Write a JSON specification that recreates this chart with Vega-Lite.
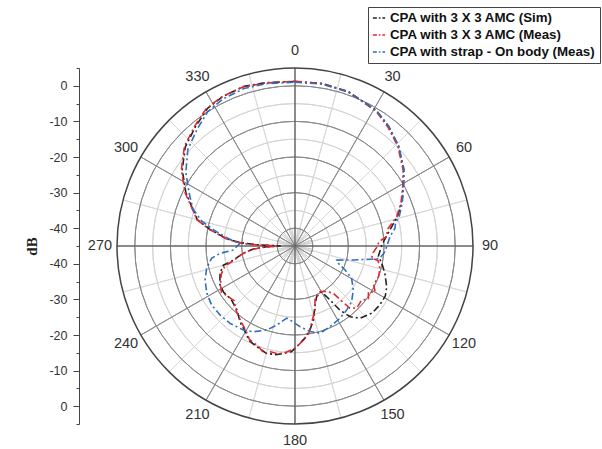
{
"$schema": "https://vega.github.io/schema/vega-lite/v6.json",
"width": 356, "height": 356,
"autosize": {"type": "none"},
"padding": {"left": 117, "top": 68, "right": 129, "bottom": 25},
"config": {"view": {"stroke": null}, "font": "Liberation Sans", "background": "white"},
"layer": [
{
 "data": {"values": [{"ring": -35}, {"ring": -25}, {"ring": -15}, {"ring": -5}]},
 "mark": {"type": "arc", "theta": 0, "theta2": 6.2832, "fillOpacity": 0, "stroke": "#d4d4d4", "strokeWidth": 1},
 "encoding": {
  "radius": {"field": "ring", "type": "quantitative", "scale": {"type": "linear", "domain": [-45, 5], "range": [0, 178], "zero": false, "nice": false}},
  "radius2": {"field": "ring"}
 }
},
{
 "data": {"values": [{"angle": 15}, {"angle": 45}, {"angle": 75}, {"angle": 105}, {"angle": 135}, {"angle": 165}, {"angle": 195}, {"angle": 225}, {"angle": 255}, {"angle": 285}, {"angle": 315}, {"angle": 345}]},
 "mark": {"type": "arc", "fillOpacity": 0, "stroke": "#d9d9d9", "strokeWidth": 1},
 "encoding": {
  "theta": {"field": "angle", "type": "quantitative", "stack": null, "scale": {"type": "linear", "domain": [0, 360], "range": [0, 6.2832], "zero": false, "nice": false}},
  "theta2": {"field": "angle"},
  "radius": {"datum": 5, "type": "quantitative", "scale": {"type": "linear", "domain": [-45, 5], "range": [0, 178], "zero": false, "nice": false}},
  "radius2": {"datum": -45}
 }
},
{
 "data": {"values": [{"angle": 10}, {"angle": 20}, {"angle": 40}, {"angle": 50}, {"angle": 70}, {"angle": 80}, {"angle": 100}, {"angle": 110}, {"angle": 130}, {"angle": 140}, {"angle": 160}, {"angle": 170}, {"angle": 190}, {"angle": 200}, {"angle": 220}, {"angle": 230}, {"angle": 250}, {"angle": 260}, {"angle": 280}, {"angle": 290}, {"angle": 310}, {"angle": 320}, {"angle": 340}, {"angle": 350}]},
 "mark": {"type": "arc", "fillOpacity": 0, "stroke": "#cccccc", "strokeWidth": 0.7},
 "encoding": {
  "theta": {"field": "angle", "type": "quantitative", "stack": null, "scale": {"type": "linear", "domain": [0, 360], "range": [0, 6.2832], "zero": false, "nice": false}},
  "theta2": {"field": "angle"},
  "radius": {"datum": -40, "type": "quantitative", "scale": {"type": "linear", "domain": [-45, 5], "range": [0, 178], "zero": false, "nice": false}},
  "radius2": {"datum": -45}
 }
},
{
 "data": {"values": [{"ring": -40}, {"ring": -30}, {"ring": -20}, {"ring": -10}, {"ring": 0}]},
 "mark": {"type": "arc", "theta": 0, "theta2": 6.2832, "fillOpacity": 0, "stroke": "#8a8a8a", "strokeWidth": 1},
 "encoding": {
  "radius": {"field": "ring", "type": "quantitative", "scale": {"type": "linear", "domain": [-45, 5], "range": [0, 178], "zero": false, "nice": false}},
  "radius2": {"field": "ring"}
 }
},
{
 "data": {"values": [{"angle": 30}, {"angle": 60}, {"angle": 120}, {"angle": 150}, {"angle": 210}, {"angle": 240}, {"angle": 300}, {"angle": 330}]},
 "mark": {"type": "arc", "fillOpacity": 0, "stroke": "#8a8a8a", "strokeWidth": 1},
 "encoding": {
  "theta": {"field": "angle", "type": "quantitative", "stack": null, "scale": {"type": "linear", "domain": [0, 360], "range": [0, 6.2832], "zero": false, "nice": false}},
  "theta2": {"field": "angle"},
  "radius": {"datum": 5, "type": "quantitative", "scale": {"type": "linear", "domain": [-45, 5], "range": [0, 178], "zero": false, "nice": false}},
  "radius2": {"datum": -45}
 }
},
{
 "data": {"values": [{"angle": 0}, {"angle": 90}, {"angle": 180}, {"angle": 270}]},
 "mark": {"type": "arc", "fillOpacity": 0, "stroke": "#666666", "strokeWidth": 1},
 "encoding": {
  "theta": {"field": "angle", "type": "quantitative", "stack": null, "scale": {"type": "linear", "domain": [0, 360], "range": [0, 6.2832], "zero": false, "nice": false}},
  "theta2": {"field": "angle"},
  "radius": {"datum": 5, "type": "quantitative", "scale": {"type": "linear", "domain": [-45, 5], "range": [0, 178], "zero": false, "nice": false}},
  "radius2": {"datum": -45}
 }
},
{
 "data": {"values": [{"ring": 5}]},
 "mark": {"type": "arc", "theta": 0, "theta2": 6.2832, "fillOpacity": 0, "stroke": "#444444", "strokeWidth": 1.5},
 "encoding": {
  "radius": {"field": "ring", "type": "quantitative", "scale": {"type": "linear", "domain": [-45, 5], "range": [0, 178], "zero": false, "nice": false}},
  "radius2": {"field": "ring"}
 }
},
{
 "data": {"values": [{"angle": 0}, {"angle": 30}, {"angle": 60}, {"angle": 90}, {"angle": 120}, {"angle": 150}, {"angle": 180}, {"angle": 210}, {"angle": 240}, {"angle": 270}, {"angle": 300}, {"angle": 330}]},
 "mark": {"type": "text", "fontSize": 14.5, "color": "#333333", "align": "center", "baseline": "middle", "font": "Liberation Sans"},
 "encoding": {
  "theta": {"field": "angle", "type": "quantitative", "stack": null, "scale": {"type": "linear", "domain": [0, 360], "range": [0, 6.2832], "zero": false, "nice": false}},
  "radius": {"datum": 9.8, "type": "quantitative", "scale": {"type": "linear", "domain": [-45, 5], "range": [0, 178], "zero": false, "nice": false}},
  "text": {"field": "angle", "type": "quantitative"}
 }
},
{
 "data": {"values": [
{"series":"CPA with 3 X 3 AMC (Sim)","angle":0,"dB":1.2},{"series":"CPA with 3 X 3 AMC (Sim)","angle":9.5,"dB":1.3},{"series":"CPA with 3 X 3 AMC (Sim)","angle":19,"dB":0.9},{"series":"CPA with 3 X 3 AMC (Sim)","angle":31,"dB":-0.6},{"series":"CPA with 3 X 3 AMC (Sim)","angle":38,"dB":-2.3},{"series":"CPA with 3 X 3 AMC (Sim)","angle":46,"dB":-4.6},{"series":"CPA with 3 X 3 AMC (Sim)","angle":55,"dB":-7.7},{"series":"CPA with 3 X 3 AMC (Sim)","angle":61,"dB":-10.2},{"series":"CPA with 3 X 3 AMC (Sim)","angle":68,"dB":-12.6},{"series":"CPA with 3 X 3 AMC (Sim)","angle":74,"dB":-15.1},{"series":"CPA with 3 X 3 AMC (Sim)","angle":80,"dB":-17.8},{"series":"CPA with 3 X 3 AMC (Sim)","angle":86,"dB":-19.8},{"series":"CPA with 3 X 3 AMC (Sim)","angle":90,"dB":-20.7},{"series":"CPA with 3 X 3 AMC (Sim)","angle":97,"dB":-21.4},{"series":"CPA with 3 X 3 AMC (Sim)","angle":101,"dB":-20.2},{"series":"CPA with 3 X 3 AMC (Sim)","angle":107,"dB":-18.6},{"series":"CPA with 3 X 3 AMC (Sim)","angle":114,"dB":-16.8},{"series":"CPA with 3 X 3 AMC (Sim)","angle":119,"dB":-16.0},{"series":"CPA with 3 X 3 AMC (Sim)","angle":125,"dB":-16.0},{"series":"CPA with 3 X 3 AMC (Sim)","angle":131,"dB":-16.3},{"series":"CPA with 3 X 3 AMC (Sim)","angle":138,"dB":-17.7},{"series":"CPA with 3 X 3 AMC (Sim)","angle":142,"dB":-19.8},{"series":"CPA with 3 X 3 AMC (Sim)","angle":145,"dB":-23.0},{"series":"CPA with 3 X 3 AMC (Sim)","angle":147,"dB":-26.9},{"series":"CPA with 3 X 3 AMC (Sim)","angle":150,"dB":-30.1},{"series":"CPA with 3 X 3 AMC (Sim)","angle":157,"dB":-29.5},{"series":"CPA with 3 X 3 AMC (Sim)","angle":162,"dB":-27.0},{"series":"CPA with 3 X 3 AMC (Sim)","angle":166,"dB":-23.6},{"series":"CPA with 3 X 3 AMC (Sim)","angle":170,"dB":-21.0},{"series":"CPA with 3 X 3 AMC (Sim)","angle":174,"dB":-18.9},{"series":"CPA with 3 X 3 AMC (Sim)","angle":179,"dB":-16.7},{"series":"CPA with 3 X 3 AMC (Sim)","angle":182,"dB":-15.3},{"series":"CPA with 3 X 3 AMC (Sim)","angle":186,"dB":-14.7},{"series":"CPA with 3 X 3 AMC (Sim)","angle":190,"dB":-14.0},{"series":"CPA with 3 X 3 AMC (Sim)","angle":195,"dB":-13.8},{"series":"CPA with 3 X 3 AMC (Sim)","angle":201,"dB":-14.8},{"series":"CPA with 3 X 3 AMC (Sim)","angle":206,"dB":-15.5},{"series":"CPA with 3 X 3 AMC (Sim)","angle":210,"dB":-17.1},{"series":"CPA with 3 X 3 AMC (Sim)","angle":216,"dB":-18.7},{"series":"CPA with 3 X 3 AMC (Sim)","angle":222,"dB":-20.7},{"series":"CPA with 3 X 3 AMC (Sim)","angle":230,"dB":-21.6},{"series":"CPA with 3 X 3 AMC (Sim)","angle":237,"dB":-21.1},{"series":"CPA with 3 X 3 AMC (Sim)","angle":243,"dB":-21.3},{"series":"CPA with 3 X 3 AMC (Sim)","angle":250,"dB":-22.6},{"series":"CPA with 3 X 3 AMC (Sim)","angle":255,"dB":-24.2},{"series":"CPA with 3 X 3 AMC (Sim)","angle":257,"dB":-27.2},{"series":"CPA with 3 X 3 AMC (Sim)","angle":262,"dB":-30.3},{"series":"CPA with 3 X 3 AMC (Sim)","angle":266,"dB":-33.3},{"series":"CPA with 3 X 3 AMC (Sim)","angle":268.5,"dB":-37},{"series":"CPA with 3 X 3 AMC (Sim)","angle":270,"dB":-41},{"series":"CPA with 3 X 3 AMC (Sim)","angle":272,"dB":-34},{"series":"CPA with 3 X 3 AMC (Sim)","angle":273.5,"dB":-29.5},{"series":"CPA with 3 X 3 AMC (Sim)","angle":276,"dB":-25.7},{"series":"CPA with 3 X 3 AMC (Sim)","angle":281,"dB":-20.7},{"series":"CPA with 3 X 3 AMC (Sim)","angle":285,"dB":-16.6},{"series":"CPA with 3 X 3 AMC (Sim)","angle":296,"dB":-10.9},{"series":"CPA with 3 X 3 AMC (Sim)","angle":304,"dB":-6.8},{"series":"CPA with 3 X 3 AMC (Sim)","angle":312,"dB":-3.5},{"series":"CPA with 3 X 3 AMC (Sim)","angle":320,"dB":-1.4},{"series":"CPA with 3 X 3 AMC (Sim)","angle":327.5,"dB":0.8},{"series":"CPA with 3 X 3 AMC (Sim)","angle":334,"dB":1.6},{"series":"CPA with 3 X 3 AMC (Sim)","angle":342,"dB":2.1},{"series":"CPA with 3 X 3 AMC (Sim)","angle":350,"dB":1.6},{"series":"CPA with 3 X 3 AMC (Sim)","angle":360,"dB":1.2},
{"series":"CPA with 3 X 3 AMC (Meas)","angle":0,"dB":1.3},{"series":"CPA with 3 X 3 AMC (Meas)","angle":9.5,"dB":1.2},{"series":"CPA with 3 X 3 AMC (Meas)","angle":19,"dB":0.8},{"series":"CPA with 3 X 3 AMC (Meas)","angle":31,"dB":-0.8},{"series":"CPA with 3 X 3 AMC (Meas)","angle":38,"dB":-2.6},{"series":"CPA with 3 X 3 AMC (Meas)","angle":46,"dB":-4.8},{"series":"CPA with 3 X 3 AMC (Meas)","angle":55,"dB":-7.9},{"series":"CPA with 3 X 3 AMC (Meas)","angle":61,"dB":-10.4},{"series":"CPA with 3 X 3 AMC (Meas)","angle":68,"dB":-12.9},{"series":"CPA with 3 X 3 AMC (Meas)","angle":74,"dB":-15.3},{"series":"CPA with 3 X 3 AMC (Meas)","angle":80,"dB":-18.7},{"series":"CPA with 3 X 3 AMC (Meas)","angle":84,"dB":-19},{"series":"CPA with 3 X 3 AMC (Meas)","angle":87,"dB":-21.4},{"series":"CPA with 3 X 3 AMC (Meas)","angle":90,"dB":-21.8},{"series":"CPA with 3 X 3 AMC (Meas)","angle":95,"dB":-23},{"series":"CPA with 3 X 3 AMC (Meas)","angle":99,"dB":-23.2},{"series":"CPA with 3 X 3 AMC (Meas)","angle":100,"dB":-21.3},{"series":"CPA with 3 X 3 AMC (Meas)","angle":105,"dB":-20.3},{"series":"CPA with 3 X 3 AMC (Meas)","angle":110,"dB":-20.0},{"series":"CPA with 3 X 3 AMC (Meas)","angle":116,"dB":-20.4},{"series":"CPA with 3 X 3 AMC (Meas)","angle":120,"dB":-19},{"series":"CPA with 3 X 3 AMC (Meas)","angle":122,"dB":-20.7},{"series":"CPA with 3 X 3 AMC (Meas)","angle":126,"dB":-19.5},{"series":"CPA with 3 X 3 AMC (Meas)","angle":129,"dB":-20.9},{"series":"CPA with 3 X 3 AMC (Meas)","angle":135,"dB":-20.4},{"series":"CPA with 3 X 3 AMC (Meas)","angle":138.6,"dB":-21.7},{"series":"CPA with 3 X 3 AMC (Meas)","angle":139.5,"dB":-24.3},{"series":"CPA with 3 X 3 AMC (Meas)","angle":141,"dB":-27.9},{"series":"CPA with 3 X 3 AMC (Meas)","angle":145,"dB":-29.4},{"series":"CPA with 3 X 3 AMC (Meas)","angle":151,"dB":-30.4},{"series":"CPA with 3 X 3 AMC (Meas)","angle":159,"dB":-29.3},{"series":"CPA with 3 X 3 AMC (Meas)","angle":162.6,"dB":-26.2},{"series":"CPA with 3 X 3 AMC (Meas)","angle":168,"dB":-22.8},{"series":"CPA with 3 X 3 AMC (Meas)","angle":171,"dB":-20.2},{"series":"CPA with 3 X 3 AMC (Meas)","angle":176,"dB":-18},{"series":"CPA with 3 X 3 AMC (Meas)","angle":180,"dB":-16.3},{"series":"CPA with 3 X 3 AMC (Meas)","angle":185,"dB":-15},{"series":"CPA with 3 X 3 AMC (Meas)","angle":189,"dB":-14.3},{"series":"CPA with 3 X 3 AMC (Meas)","angle":193,"dB":-14.5},{"series":"CPA with 3 X 3 AMC (Meas)","angle":196,"dB":-13.6},{"series":"CPA with 3 X 3 AMC (Meas)","angle":200,"dB":-15},{"series":"CPA with 3 X 3 AMC (Meas)","angle":206,"dB":-15.8},{"series":"CPA with 3 X 3 AMC (Meas)","angle":210,"dB":-17.5},{"series":"CPA with 3 X 3 AMC (Meas)","angle":216,"dB":-19},{"series":"CPA with 3 X 3 AMC (Meas)","angle":222,"dB":-20.4},{"series":"CPA with 3 X 3 AMC (Meas)","angle":228,"dB":-22},{"series":"CPA with 3 X 3 AMC (Meas)","angle":234,"dB":-21.3},{"series":"CPA with 3 X 3 AMC (Meas)","angle":238,"dB":-20.6},{"series":"CPA with 3 X 3 AMC (Meas)","angle":243,"dB":-21.5},{"series":"CPA with 3 X 3 AMC (Meas)","angle":249,"dB":-22.8},{"series":"CPA with 3 X 3 AMC (Meas)","angle":254,"dB":-24.5},{"series":"CPA with 3 X 3 AMC (Meas)","angle":257,"dB":-27.5},{"series":"CPA with 3 X 3 AMC (Meas)","angle":261,"dB":-29.8},{"series":"CPA with 3 X 3 AMC (Meas)","angle":265,"dB":-32.5},{"series":"CPA with 3 X 3 AMC (Meas)","angle":268,"dB":-36},{"series":"CPA with 3 X 3 AMC (Meas)","angle":269,"dB":-40},{"series":"CPA with 3 X 3 AMC (Meas)","angle":271,"dB":-38},{"series":"CPA with 3 X 3 AMC (Meas)","angle":272,"dB":-32},{"series":"CPA with 3 X 3 AMC (Meas)","angle":274,"dB":-28.5},{"series":"CPA with 3 X 3 AMC (Meas)","angle":276,"dB":-25.5},{"series":"CPA with 3 X 3 AMC (Meas)","angle":281,"dB":-20.5},{"series":"CPA with 3 X 3 AMC (Meas)","angle":285,"dB":-16.5},{"series":"CPA with 3 X 3 AMC (Meas)","angle":296,"dB":-10.6},{"series":"CPA with 3 X 3 AMC (Meas)","angle":304,"dB":-6.5},{"series":"CPA with 3 X 3 AMC (Meas)","angle":312,"dB":-3.2},{"series":"CPA with 3 X 3 AMC (Meas)","angle":320,"dB":-1.1},{"series":"CPA with 3 X 3 AMC (Meas)","angle":327,"dB":0.9},{"series":"CPA with 3 X 3 AMC (Meas)","angle":334,"dB":1.7},{"series":"CPA with 3 X 3 AMC (Meas)","angle":342,"dB":2.0},{"series":"CPA with 3 X 3 AMC (Meas)","angle":350,"dB":1.5},{"series":"CPA with 3 X 3 AMC (Meas)","angle":360,"dB":1.3},
{"series":"CPA with strap - On body (Meas)","angle":0,"dB":1.0},{"series":"CPA with strap - On body (Meas)","angle":9.5,"dB":1.1},{"series":"CPA with strap - On body (Meas)","angle":19,"dB":0.8},{"series":"CPA with strap - On body (Meas)","angle":31,"dB":-0.6},{"series":"CPA with strap - On body (Meas)","angle":38,"dB":-2.3},{"series":"CPA with strap - On body (Meas)","angle":46,"dB":-4.5},{"series":"CPA with strap - On body (Meas)","angle":55,"dB":-7.6},{"series":"CPA with strap - On body (Meas)","angle":61,"dB":-10.1},{"series":"CPA with strap - On body (Meas)","angle":68,"dB":-12.5},{"series":"CPA with strap - On body (Meas)","angle":74,"dB":-14.5},{"series":"CPA with strap - On body (Meas)","angle":77,"dB":-16},{"series":"CPA with strap - On body (Meas)","angle":80,"dB":-16.5},{"series":"CPA with strap - On body (Meas)","angle":84.4,"dB":-18.2},{"series":"CPA with strap - On body (Meas)","angle":90,"dB":-19.2},{"series":"CPA with strap - On body (Meas)","angle":93.6,"dB":-19.7},{"series":"CPA with strap - On body (Meas)","angle":98.3,"dB":-20.9},{"series":"CPA with strap - On body (Meas)","angle":100,"dB":-23.6},{"series":"CPA with strap - On body (Meas)","angle":103.5,"dB":-28.1},{"series":"CPA with strap - On body (Meas)","angle":108.6,"dB":-32.6},{"series":"CPA with strap - On body (Meas)","angle":111.8,"dB":-31.9},{"series":"CPA with strap - On body (Meas)","angle":115.6,"dB":-29.4},{"series":"CPA with strap - On body (Meas)","angle":119.7,"dB":-26.7},{"series":"CPA with strap - On body (Meas)","angle":127,"dB":-24.5},{"series":"CPA with strap - On body (Meas)","angle":134.5,"dB":-22.7},{"series":"CPA with strap - On body (Meas)","angle":141,"dB":-21.9},{"series":"CPA with strap - On body (Meas)","angle":148,"dB":-21.1},{"series":"CPA with strap - On body (Meas)","angle":156.5,"dB":-20.3},{"series":"CPA with strap - On body (Meas)","angle":164,"dB":-19.5},{"series":"CPA with strap - On body (Meas)","angle":170,"dB":-20.6},{"series":"CPA with strap - On body (Meas)","angle":176.5,"dB":-22.3},{"series":"CPA with strap - On body (Meas)","angle":184,"dB":-24.2},{"series":"CPA with strap - On body (Meas)","angle":186.6,"dB":-24.6},{"series":"CPA with strap - On body (Meas)","angle":193,"dB":-22.2},{"series":"CPA with strap - On body (Meas)","angle":198.6,"dB":-20.1},{"series":"CPA with strap - On body (Meas)","angle":206,"dB":-18.2},{"series":"CPA with strap - On body (Meas)","angle":211.6,"dB":-17.3},{"series":"CPA with strap - On body (Meas)","angle":220,"dB":-16.6},{"series":"CPA with strap - On body (Meas)","angle":227.4,"dB":-16.4},{"series":"CPA with strap - On body (Meas)","angle":234.7,"dB":-16.3},{"series":"CPA with strap - On body (Meas)","angle":241.8,"dB":-16.9},{"series":"CPA with strap - On body (Meas)","angle":249.3,"dB":-18},{"series":"CPA with strap - On body (Meas)","angle":255.8,"dB":-19.4},{"series":"CPA with strap - On body (Meas)","angle":261.6,"dB":-21.3},{"series":"CPA with strap - On body (Meas)","angle":264.4,"dB":-23.8},{"series":"CPA with strap - On body (Meas)","angle":266.3,"dB":-27.7},{"series":"CPA with strap - On body (Meas)","angle":272.8,"dB":-29.5},{"series":"CPA with strap - On body (Meas)","angle":276,"dB":-26.5},{"series":"CPA with strap - On body (Meas)","angle":281,"dB":-21.8},{"series":"CPA with strap - On body (Meas)","angle":285,"dB":-17.8},{"series":"CPA with strap - On body (Meas)","angle":290,"dB":-14.5},{"series":"CPA with strap - On body (Meas)","angle":296,"dB":-12},{"series":"CPA with strap - On body (Meas)","angle":304,"dB":-8},{"series":"CPA with strap - On body (Meas)","angle":312,"dB":-4.5},{"series":"CPA with strap - On body (Meas)","angle":320,"dB":-2.2},{"series":"CPA with strap - On body (Meas)","angle":327,"dB":0},{"series":"CPA with strap - On body (Meas)","angle":334,"dB":1.0},{"series":"CPA with strap - On body (Meas)","angle":342,"dB":1.5},{"series":"CPA with strap - On body (Meas)","angle":350,"dB":1.3},{"series":"CPA with strap - On body (Meas)","angle":360,"dB":1.0}
 ]},
 "transform": [
  {"calculate": "(datum.dB + 45) * sin(datum.angle * PI / 180)", "as": "px"},
  {"calculate": "(datum.dB + 45) * cos(datum.angle * PI / 180)", "as": "py"}
 ],
 "mark": {"type": "line", "strokeWidth": 1.6, "strokeDash": [7, 3, 2, 3]},
 "encoding": {
  "x": {"field": "px", "type": "quantitative", "scale": {"domain": [-50, 50], "nice": false, "zero": false}, "axis": null},
  "y": {"field": "py", "type": "quantitative", "scale": {"domain": [-50, 50], "nice": false, "zero": false},
   "axis": {
    "values": [-50,-45,-40,-35,-30,-25,-20,-15,-10,-5,0,5,10,15,20,25,30,35,40,45,50],
    "labelExpr": "abs(datum.value) % 10 == 5 ? '' + (abs(datum.value) - 45) : ''",
    "tickSize": {"condition": {"test": "abs(datum.value) % 10 == 5", "value": 6}, "value": 3},
    "offset": 38, "grid": false,
    "domainColor": "#444444", "tickColor": "#444444", "domainWidth": 1, "tickWidth": 1,
    "labelColor": "#333333", "labelFontSize": 12.5, "labelFont": "Liberation Sans", "labelPadding": 6,
    "labelOverlap": false, "labelBound": false, "labelFlush": false,
    "title": "dB", "titleFont": "Liberation Serif", "titleFontWeight": "bold", "titleFontSize": 15, "titleColor": "#222222", "titlePadding": 9
   }},
  "color": {"field": "series", "type": "nominal",
   "scale": {"domain": ["CPA with 3 X 3 AMC (Sim)", "CPA with 3 X 3 AMC (Meas)", "CPA with strap - On body (Meas)"], "range": ["#222222", "#e0282e", "#2f6fbf"]},
   "legend": {"title": null, "orient": "none", "legendX": 251, "legendY": -61, "strokeColor": "#444444", "fillColor": "white", "padding": 4,
    "symbolType": "stroke", "symbolSize": 150, "symbolStrokeWidth": 1.5, "symbolDash": [4, 2, 1.5, 2], "labelOffset": 4,
    "labelFontSize": 13.3, "labelFontWeight": "bold", "labelFont": "Liberation Sans", "labelColor": "#111111", "rowPadding": 3, "labelLimit": 300}},
  "order": {"field": "angle", "type": "quantitative"}
 }
}
]
}
